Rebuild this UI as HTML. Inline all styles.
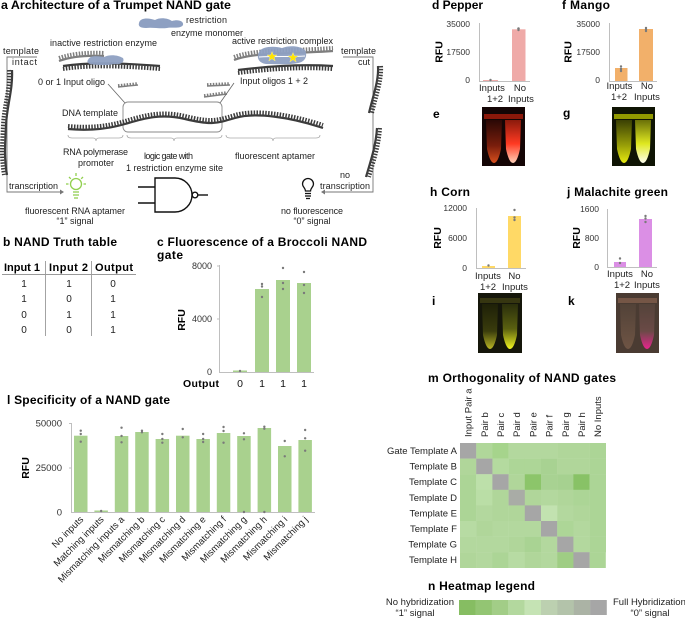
<!DOCTYPE html>
<html><head><meta charset="utf-8"><style>
html,body{margin:0;padding:0;background:#fff;}
svg{display:block;font-family:"Liberation Sans",Arial,sans-serif;}
.t{font-weight:bold;font-size:12px;fill:#000;}
.s{font-size:9px;fill:#222;}
.k{font-size:9px;fill:#333;}
.b{font-weight:bold;font-size:10.5px;fill:#000;}
.ax{stroke:#bfbfbf;stroke-width:1;fill:none;}
.dot{fill:#7a7a7a;}
.bk{stroke:#3c3c3c;stroke-width:2.2;fill:none;}
.tk{stroke:#3c3c3c;stroke-width:4;fill:none;stroke-dasharray:1.5 1.4;}
.bg{stroke:#7e7e7e;stroke-width:2.2;fill:none;}
.tg{stroke:#7e7e7e;stroke-width:4;fill:none;stroke-dasharray:1.5 1.4;}
</style></head><body>
<svg width="685" height="619" viewBox="0 0 685 619" xmlns="http://www.w3.org/2000/svg">
<defs>
<linearGradient id="eL" x1="0" y1="0" x2="0" y2="1"><stop offset="0" stop-color="#2a0805"/><stop offset="0.6" stop-color="#7a1e0c"/><stop offset="1" stop-color="#d8501e"/></linearGradient>
<linearGradient id="eR" x1="0" y1="0" x2="0" y2="1"><stop offset="0" stop-color="#8a1a0c"/><stop offset="0.55" stop-color="#ff3a22"/><stop offset="1" stop-color="#ffd0b8"/></linearGradient>
<linearGradient id="gL" x1="0" y1="0" x2="0" y2="1"><stop offset="0" stop-color="#3a4004"/><stop offset="0.6" stop-color="#9aa008"/><stop offset="1" stop-color="#e6ea10"/></linearGradient>
<linearGradient id="gR" x1="0" y1="0" x2="0" y2="1"><stop offset="0" stop-color="#6a7008"/><stop offset="0.55" stop-color="#dfe820"/><stop offset="1" stop-color="#ffffef"/></linearGradient>
<linearGradient id="iL" x1="0" y1="0" x2="0" y2="1"><stop offset="0" stop-color="#1e2008"/><stop offset="0.6" stop-color="#3a3c0c"/><stop offset="1" stop-color="#b8b424"/></linearGradient>
<linearGradient id="iR" x1="0" y1="0" x2="0" y2="1"><stop offset="0" stop-color="#2a2e0c"/><stop offset="0.55" stop-color="#5a6010"/><stop offset="1" stop-color="#f0f420"/></linearGradient>
<linearGradient id="kL" x1="0" y1="0" x2="0" y2="1"><stop offset="0" stop-color="#524238"/><stop offset="1" stop-color="#6e5444"/></linearGradient>
<linearGradient id="kR" x1="0" y1="0" x2="0" y2="1"><stop offset="0" stop-color="#54433a"/><stop offset="0.6" stop-color="#6a4a46"/><stop offset="1" stop-color="#e6258e"/></linearGradient>
</defs>

<!-- ================= Panel a ================= -->
<text class="t" x="1" y="9" textLength="230" lengthAdjust="spacingAndGlyphs">a Architecture of a Trumpet NAND gate</text>

<!-- monomer -->
<path d="M139,23 C140,17 150,18 155,20 C160,17 168,18 172,21 C178,19 184,21 183,25 C181,29 172,27 167,28 C160,29 152,27 146,28 C140,28 138,26 139,23 Z" fill="#8ea0c2"/>
<text class="s" x="186" y="23" textLength="41">restriction</text>
<text class="s" x="171" y="36" textLength="72">enzyme monomer</text>

<text class="s" x="50" y="46" textLength="107">inactive restriction enzyme</text>
<text class="s" x="232" y="44" textLength="101">active restriction complex</text>

<!-- template intact bracket -->
<text class="s" x="3" y="54" textLength="36">template</text>
<text class="s" x="12" y="65" textLength="25">intact</text>
<path d="M37,57 H7 V192 H60" stroke="#777" stroke-width="0.9" fill="none"/>
<path d="M60,189.5 L64,192 L60,194.5 Z" fill="#777"/>
<!-- template cut bracket -->
<text class="s" x="341" y="54" textLength="35">template</text>
<text class="s" x="358" y="65" textLength="12">cut</text>
<path d="M343,57 H373 V192 H325" stroke="#777" stroke-width="0.9" fill="none"/>
<path d="M325,189.5 L321,192 L325,194.5 Z" fill="#777"/>

<!-- left vertical strand -->
<path class="bk" d="M12,70 C13,90 7,105 6,125 S4,158 7,175"/>
<path class="tk" transform="translate(-3,0)" d="M12,70 C13,90 7,105 6,125 S4,158 7,175"/>
<!-- right cut strand -->
<path class="bk" d="M378,66 C379,80 373,96 369,113"/>
<path class="tk" transform="translate(3,0)" d="M378,66 C379,80 373,96 369,113"/>
<path class="bk" d="M377,128 C376,145 371,160 366,177"/>
<path class="tk" transform="translate(3,0)" d="M377,128 C376,145 371,160 366,177"/>

<!-- inactive enzyme -->
<path class="bg" d="M59,61 C70,57 86,55 104,56"/>
<path class="tg" transform="translate(0,-3)" d="M59,61 C70,57 86,55 104,56"/>
<path class="bk" d="M63,66 C90,62 122,63 160,66"/>
<path class="tk" transform="translate(0,3)" d="M63,66 C90,62 122,63 160,66"/>
<path d="M88,60 C90,55 98,56 104,57 C110,54 118,55 123,58 C125,62 121,65 114,64 C106,66 96,65 90,64 C87,63 87,61 88,60 Z" fill="#8ea0c2" opacity="0.95"/>

<!-- active complex -->
<path class="bg" d="M234,60 C255,52 290,54 333,51"/>
<path class="tg" transform="translate(0,-3)" d="M234,60 C255,52 290,54 333,51"/>
<path class="bk" d="M238,70 C270,66 300,64 333,66"/>
<path class="tk" transform="translate(0,3)" d="M238,70 C270,66 300,64 333,66"/>
<path d="M259,52 C262,46 275,46 282,48 C290,45 300,46 305,50 C308,56 305,62 298,63 C288,65 275,64 266,64 C259,63 256,58 259,52 Z" fill="#8ea0c2" opacity="0.95"/>
<path d="M259,57 C275,56 290,57 305,56" stroke="#fff" stroke-width="1" fill="none"/>
<polygon points="272,51.5 273.3,55 277,55 274,57.3 275.2,61 272,58.7 268.8,61 270,57.3 267,55 270.7,55" fill="#ffe400" stroke="#fff7a0" stroke-width="0.4"/>
<polygon points="293,52.5 294.3,56 298,56 295,58.3 296.2,62 293,59.7 289.8,62 291,58.3 288,56 291.7,56" fill="#ffe400" stroke="#fff7a0" stroke-width="0.4"/>

<!-- oligos -->
<text class="s" x="38" y="85" textLength="67">0 or 1 Input oligo</text>
<path class="bg" style="stroke-width:1.4" d="M118,87 L138,85"/>
<path class="tg" style="stroke-width:2.5" transform="translate(0,-1.6)" d="M118,87 L138,85"/>
<text class="s" x="240" y="84" textLength="68">Input oligos 1 + 2</text>
<path class="bg" style="stroke-width:1.4" d="M207,86 L230,85"/>
<path class="tg" style="stroke-width:2.5" transform="translate(0,-1.6)" d="M207,86 L230,85"/>
<path class="bg" style="stroke-width:1.4" d="M204,97 L227,94"/>
<path class="tg" style="stroke-width:2.5" transform="translate(0,-1.6)" d="M204,97 L227,94"/>
<line x1="108" y1="84" x2="125" y2="103" stroke="#666" stroke-width="0.8"/>
<line x1="234" y1="83" x2="220" y2="103" stroke="#666" stroke-width="0.8"/>

<!-- DNA template -->
<text class="s" x="62" y="116" textLength="56">DNA template</text>
<rect x="123" y="102" width="99" height="30" rx="5" ry="5" fill="none" stroke="#8a8a8a" stroke-width="0.9"/>
<path class="bk" d="M68,129 C90,131 108,129 125,124 S160,113 185,119 S215,124 235,118 S290,117 323,128"/>
<path class="tk" transform="translate(0,-3)" d="M68,129 C90,131 108,129 125,124 S160,113 185,119 S215,124 235,118 S290,117 323,128"/>

<!-- braces -->
<path d="M68,135 Q68,138 72,138 H93 Q96,138 96,141 Q96,138 99,138 H119 Q123,138 123,135" fill="none" stroke="#aaa" stroke-width="0.8"/>
<path d="M127,135 Q127,138 131,138 H171 Q174,138 174,141 Q174,138 177,138 H218 Q222,138 222,135" fill="none" stroke="#aaa" stroke-width="0.8"/>
<path d="M226,135 Q226,138 230,138 H270 Q273,138 273,141 Q273,138 276,138 H316 Q320,138 320,135" fill="none" stroke="#aaa" stroke-width="0.8"/>

<text class="s" x="63" y="155" textLength="65">RNA polymerase</text>
<text class="s" x="96" y="166" text-anchor="middle">promoter</text>
<text class="s" x="144" y="159" textLength="49">logic gate with</text>
<text class="s" x="126" y="171" textLength="97">1 restriction enzyme site</text>
<text class="s" x="235" y="159" textLength="80">fluorescent aptamer</text>

<text class="s" x="9" y="189" textLength="49">transcription</text>
<text class="s" x="345" y="178" text-anchor="middle">no</text>
<text class="s" x="320" y="189" textLength="50">transcription</text>

<!-- green bulb -->
<g stroke="#92d050" stroke-width="1.3" fill="none">
<circle cx="76" cy="184" r="5.5"/>
<line x1="73" y1="192" x2="79" y2="192"/><line x1="73" y1="195" x2="79" y2="195"/><line x1="74" y1="198" x2="78" y2="198"/>
<line x1="76" y1="173" x2="76" y2="176"/><line x1="66" y1="184" x2="68.5" y2="184"/><line x1="83.5" y1="184" x2="86" y2="184"/>
<line x1="69" y1="177" x2="70.8" y2="178.8"/><line x1="83" y1="177" x2="81.2" y2="178.8"/>
</g>
<text class="s" x="25" y="214" textLength="100">fluorescent RNA aptamer</text>
<text class="s" x="75" y="224" text-anchor="middle">“1” signal</text>

<!-- NAND gate -->
<g stroke="#111" stroke-width="1.4" fill="none">
<line x1="138" y1="187" x2="155" y2="187"/><line x1="138" y1="203" x2="155" y2="203"/>
<path d="M155,178 H175 A17,17 0 0 1 175,212 H155 Z"/>
<circle cx="195" cy="195" r="2.8"/>
<line x1="198" y1="195" x2="208" y2="195"/>
</g>

<!-- black bulb -->
<g stroke="#111" stroke-width="1.3" fill="none">
<path d="M305.5,191 C305.5,188 302.5,187 302.5,184 A5.5,5.5 0 0 1 313.5,184 C313.5,187 310.5,188 310.5,191 Z"/>
<line x1="305" y1="193.5" x2="311" y2="193.5"/><line x1="305" y1="196" x2="311" y2="196"/><line x1="306" y1="198.5" x2="310" y2="198.5"/>
</g>
<text class="s" x="281" y="214" textLength="62">no fluorescence</text>
<text class="s" x="312" y="224" text-anchor="middle">“0” signal</text>

<!-- ================= Panel b ================= -->
<text class="t" x="3" y="246" textLength="114">b NAND Truth table</text>
<g font-size="11" font-weight="bold">
<text x="4" y="271" textLength="36">Input 1</text>
<text x="49" y="271" textLength="39">Input 2</text>
<text x="95" y="271" textLength="38">Output</text>
</g>
<line x1="2" y1="274.5" x2="136" y2="274.5" stroke="#999" stroke-width="0.9"/>
<line x1="45.5" y1="261" x2="45.5" y2="336" stroke="#999" stroke-width="0.9"/>
<line x1="91.5" y1="261" x2="91.5" y2="336" stroke="#999" stroke-width="0.9"/>
<g font-size="10" fill="#222" text-anchor="middle">
<text x="24" y="287">1</text><text x="69" y="287">1</text><text x="113" y="287">0</text>
<text x="24" y="302">1</text><text x="69" y="302">0</text><text x="113" y="302">1</text>
<text x="24" y="318">0</text><text x="69" y="318">1</text><text x="113" y="318">1</text>
<text x="24" y="333">0</text><text x="69" y="333">0</text><text x="113" y="333">1</text>
</g>

<!-- ================= Panel c ================= -->
<text class="t" x="157" y="246" textLength="210">c Fluorescence of a Broccoli NAND</text>
<text class="t" x="157" y="259" textLength="26">gate</text>
<g fill="#a9d18e">
<rect x="233" y="370.5" width="14" height="1.5"/>
<rect x="255" y="289" width="14" height="83"/>
<rect x="276" y="280" width="14" height="92"/>
<rect x="297" y="283" width="14" height="89"/>
</g>
<path class="ax" d="M219.5,265 V372.5 H314"/>
<line x1="217" y1="266" x2="219.5" y2="266" stroke="#bfbfbf"/>
<line x1="217" y1="319" x2="219.5" y2="319" stroke="#bfbfbf"/>
<g class="k" text-anchor="end">
<text x="212" y="269">8000</text><text x="212" y="322">4000</text><text x="212" y="375">0</text>
</g>
<g class="dot">
<circle cx="240" cy="371" r="1.2"/>
<circle cx="262" cy="284" r="1.2"/><circle cx="262" cy="286.5" r="1.2"/><circle cx="262" cy="297" r="1.2"/>
<circle cx="283" cy="268" r="1.2"/><circle cx="283" cy="283" r="1.2"/><circle cx="283" cy="289" r="1.2"/>
<circle cx="304" cy="272" r="1.2"/><circle cx="304" cy="285" r="1.2"/><circle cx="304" cy="293" r="1.2"/>
</g>
<text class="b" transform="translate(181,320) rotate(-90)" x="0" y="4" text-anchor="middle">RFU</text>
<text class="b" x="183" y="387" textLength="36">Output</text>
<g font-size="10.5" fill="#111" text-anchor="middle">
<text x="240" y="387">0</text><text x="262" y="387">1</text><text x="283" y="387">1</text><text x="304" y="387">1</text>
</g>

<!-- ================= Panel l ================= -->
<text class="t" x="7" y="404" textLength="163">l Specificity of a NAND gate</text>
<g fill="#a9d18e">
<rect x="74" y="435.7" width="13.5" height="76.3"/>
<rect x="94.4" y="510.5" width="13.5" height="1.5"/>
<rect x="114.8" y="436" width="13.5" height="76"/>
<rect x="135.2" y="432" width="13.5" height="80"/>
<rect x="155.6" y="439" width="13.5" height="73"/>
<rect x="176" y="435.7" width="13.5" height="76.3"/>
<rect x="196.4" y="439" width="13.5" height="73"/>
<rect x="216.8" y="433" width="13.5" height="79"/>
<rect x="237.2" y="436" width="13.5" height="76"/>
<rect x="257.6" y="428" width="13.5" height="84"/>
<rect x="278" y="446" width="13.5" height="66"/>
<rect x="298.4" y="440" width="13.5" height="72"/>
</g>
<path class="ax" d="M71.5,423 V512.5 H315"/>
<line x1="69" y1="423.5" x2="71.5" y2="423.5" stroke="#bfbfbf"/>
<line x1="69" y1="468" x2="71.5" y2="468" stroke="#bfbfbf"/>
<g font-size="9.5" fill="#333" text-anchor="end">
<text x="62" y="426.5">50000</text><text x="62" y="471">25000</text><text x="62" y="515.5">0</text>
</g>
<text class="b" transform="translate(25,468) rotate(-90)" x="0" y="4" text-anchor="middle">RFU</text>
<g class="dot">
<circle cx="80.75" cy="430.7" r="1.2"/><circle cx="80.75" cy="434" r="1.2"/><circle cx="80.75" cy="441.7" r="1.2"/>
<circle cx="101.15" cy="511" r="1.2"/>
<circle cx="121.55" cy="427.7" r="1.2"/><circle cx="121.55" cy="436" r="1.2"/><circle cx="121.55" cy="442.3" r="1.2"/>
<circle cx="141.95" cy="430.7" r="1.2"/><circle cx="141.95" cy="432.3" r="1.2"/>
<circle cx="162.35" cy="434" r="1.2"/><circle cx="162.35" cy="439" r="1.2"/><circle cx="162.35" cy="442.7" r="1.2"/>
<circle cx="182.75" cy="429" r="1.2"/><circle cx="182.75" cy="437.3" r="1.2"/>
<circle cx="203.15" cy="434" r="1.2"/><circle cx="203.15" cy="439" r="1.2"/><circle cx="203.15" cy="442" r="1.2"/>
<circle cx="223.55" cy="427" r="1.2"/><circle cx="223.55" cy="431" r="1.2"/><circle cx="223.55" cy="442.7" r="1.2"/>
<circle cx="243.95" cy="433.3" r="1.2"/><circle cx="243.95" cy="439.3" r="1.2"/><circle cx="243.95" cy="512" r="1.2"/>
<circle cx="264.35" cy="426.7" r="1.2"/><circle cx="264.35" cy="428.7" r="1.2"/><circle cx="264.35" cy="512" r="1.2"/>
<circle cx="284.75" cy="441" r="1.2"/><circle cx="284.75" cy="456.3" r="1.2"/>
<circle cx="305.15" cy="430" r="1.2"/><circle cx="305.15" cy="438.3" r="1.2"/><circle cx="305.15" cy="450.7" r="1.2"/>
</g>
<g font-size="9.5" fill="#222" text-anchor="end">
<text transform="translate(84,520) rotate(-45)">No inputs</text>
<text transform="translate(104.4,520) rotate(-45)">Matching inputs</text>
<text transform="translate(124.8,520) rotate(-45)">Mismatching inputs a</text>
<text transform="translate(145.2,520) rotate(-45)">Mismatching b</text>
<text transform="translate(165.6,520) rotate(-45)">Mismatching c</text>
<text transform="translate(186,520) rotate(-45)">Mismatching d</text>
<text transform="translate(206.4,520) rotate(-45)">Mismatching e</text>
<text transform="translate(226.8,520) rotate(-45)">Mismatching f</text>
<text transform="translate(247.2,520) rotate(-45)">Mismatching g</text>
<text transform="translate(267.6,520) rotate(-45)">Mismatching h</text>
<text transform="translate(288,520) rotate(-45)">Mismatching i</text>
<text transform="translate(308.4,520) rotate(-45)">Mismatching j</text>
</g>

<!-- ================= Panel d ================= -->
<text class="t" x="432" y="9" textLength="51">d Pepper</text>
<g fill="#efaaa8">
<rect x="483" y="80" width="15" height="1"/>
<rect x="512" y="29.3" width="13.5" height="51.7"/>
</g>
<path class="ax" d="M479.5,23 V81.5 H530"/>
<g font-size="8.5" fill="#333" text-anchor="end">
<text x="470" y="27">35000</text><text x="470" y="55">17500</text><text x="470" y="83">0</text>
</g>
<text class="b" transform="translate(438.5,52) rotate(-90)" x="0" y="4" text-anchor="middle">RFU</text>
<g class="dot"><circle cx="490.5" cy="80" r="1.2"/><circle cx="518.5" cy="28.5" r="1.3"/><circle cx="518.5" cy="30" r="1.2"/></g>
<g font-size="9.5" fill="#222" text-anchor="middle">
<text x="492" y="91">Inputs</text><text x="495" y="102">1+2</text>
<text x="520" y="91">No</text><text x="521" y="102">Inputs</text>
</g>

<!-- ================= Panel f ================= -->
<text class="t" x="562" y="9" textLength="48">f Mango</text>
<g fill="#f2b06a">
<rect x="615" y="68" width="12.5" height="13"/>
<rect x="639" y="29" width="14" height="52"/>
</g>
<path class="ax" d="M609.5,23 V81.5 H657"/>
<g font-size="8.5" fill="#333" text-anchor="end">
<text x="600" y="27">35000</text><text x="600" y="55">17500</text><text x="600" y="83">0</text>
</g>
<text class="b" transform="translate(567.5,52) rotate(-90)" x="0" y="4" text-anchor="middle">RFU</text>
<g class="dot"><circle cx="621" cy="66.5" r="1.2"/><circle cx="621" cy="69" r="1.2"/><circle cx="621" cy="71" r="1.2"/>
<circle cx="646" cy="28" r="1.2"/><circle cx="646" cy="29.5" r="1.2"/><circle cx="646" cy="31" r="1.2"/></g>
<g font-size="9.5" fill="#222" text-anchor="middle">
<text x="619.5" y="89">Inputs</text><text x="619" y="100">1+2</text>
<text x="647" y="89">No</text><text x="647" y="100">Inputs</text>
</g>

<!-- photos e,g -->
<text class="t" x="433" y="118">e</text>
<text class="t" x="563" y="117">g</text>
<g transform="translate(482,107)">
<rect width="43" height="59" fill="#140505"/>
<rect x="2" y="7" width="39" height="5" fill="#a01c0c" opacity="0.85"/>
<path d="M4,13 H20 L19,42 Q16,56 12,56 Q8,56 5,42 Z" fill="url(#eL)"/>
<path d="M23,13 H39 L38,42 Q35,56 31,56 Q27,56 24,42 Z" fill="url(#eR)"/>
</g>
<g transform="translate(612,107)">
<rect width="43" height="59" fill="#0f1404"/>
<rect x="2" y="7" width="39" height="5" fill="#a8b000" opacity="0.85"/>
<path d="M4,13 H20 L19,42 Q16,56 12,56 Q8,56 5,42 Z" fill="url(#gL)"/>
<path d="M23,13 H39 L38,42 Q35,56 31,56 Q27,56 24,42 Z" fill="url(#gR)"/>
</g>

<!-- ================= Panel h ================= -->
<text class="t" x="430" y="196" textLength="40">h Corn</text>
<g fill="#ffd966">
<rect x="482" y="266" width="13" height="2"/>
<rect x="508" y="216" width="13" height="52"/>
</g>
<path class="ax" d="M476.5,208 V268.5 H526"/>
<g font-size="8.5" fill="#333" text-anchor="end">
<text x="467" y="211">12000</text><text x="467" y="241">6000</text><text x="467" y="271">0</text>
</g>
<text class="b" transform="translate(437,238) rotate(-90)" x="0" y="4" text-anchor="middle">RFU</text>
<g class="dot"><circle cx="488.5" cy="265.5" r="1.2"/>
<circle cx="514.5" cy="210" r="1.2"/><circle cx="514.5" cy="217.5" r="1.2"/><circle cx="514.5" cy="220" r="1.2"/></g>
<g font-size="9.5" fill="#222" text-anchor="middle">
<text x="488" y="279">Inputs</text><text x="488" y="290">1+2</text>
<text x="514.5" y="279">No</text><text x="515" y="290">Inputs</text>
</g>

<!-- ================= Panel j ================= -->
<text class="t" x="567" y="196" textLength="101">j Malachite green</text>
<g fill="#db8fe5">
<rect x="614" y="262" width="12" height="5"/>
<rect x="639" y="219" width="13" height="48"/>
</g>
<path class="ax" d="M607.5,209 V267.5 H657"/>
<g font-size="8.5" fill="#333" text-anchor="end">
<text x="599" y="212">1600</text><text x="599" y="241">800</text><text x="599" y="270">0</text>
</g>
<text class="b" transform="translate(576,238) rotate(-90)" x="0" y="4" text-anchor="middle">RFU</text>
<g class="dot"><circle cx="620" cy="258.5" r="1.2"/><circle cx="620" cy="263" r="1.2"/>
<circle cx="645.5" cy="216" r="1.2"/><circle cx="645.5" cy="218.5" r="1.2"/><circle cx="645.5" cy="222" r="1.2"/></g>
<g font-size="9.5" fill="#222" text-anchor="middle">
<text x="620" y="277">Inputs</text><text x="622" y="288">1+2</text>
<text x="647" y="277">No</text><text x="647" y="288">Inputs</text>
</g>

<!-- photos i,k -->
<text class="t" x="432" y="305">i</text>
<text class="t" x="568" y="305">k</text>
<g transform="translate(478,293)">
<rect width="44" height="60" fill="#15160a"/>
<rect x="2" y="5" width="40" height="5" fill="#3a3a12" opacity="0.9"/>
<path d="M4,11 H20 L19,42 Q16,56 12,56 Q8,56 5,42 Z" fill="url(#iL)"/>
<path d="M24,11 H40 L39,42 Q36,56 32,56 Q28,56 25,42 Z" fill="url(#iR)"/>
</g>
<g transform="translate(616,293)">
<rect width="43" height="60" fill="#4a3b32"/>
<rect x="2" y="5" width="39" height="5" fill="#7a5a48" opacity="0.9"/>
<path d="M4,11 H20 L19,42 Q16,56 12,56 Q8,56 5,42 Z" fill="url(#kL)"/>
<path d="M23,11 H39 L38,42 Q35,56 31,56 Q27,56 24,42 Z" fill="url(#kR)"/>
</g>

<!-- ================= Panel m ================= -->
<text class="t" x="428" y="382" textLength="188">m Orthogonality of NAND gates</text>
<g font-size="9.5" fill="#222">
<text transform="translate(471.6,437) rotate(-90)">Input Pair a</text>
<text transform="translate(487.8,437) rotate(-90)">Pair b</text>
<text transform="translate(504,437) rotate(-90)">Pair c</text>
<text transform="translate(520.2,437) rotate(-90)">Pair d</text>
<text transform="translate(536.4,437) rotate(-90)">Pair e</text>
<text transform="translate(552.6,437) rotate(-90)">Pair f</text>
<text transform="translate(568.8,437) rotate(-90)">Pair g</text>
<text transform="translate(585,437) rotate(-90)">Pair h</text>
<text transform="translate(601.2,437) rotate(-90)">No Inputs</text>
</g>
<g font-size="9.5" fill="#222" text-anchor="end">
<text x="457" y="454">Gate Template A</text>
<text x="457" y="469.6">Template B</text>
<text x="457" y="485.2">Template C</text>
<text x="457" y="500.8">Template D</text>
<text x="457" y="516.4">Template E</text>
<text x="457" y="532">Template F</text>
<text x="457" y="547.6">Template G</text>
<text x="457" y="563.2">Template H</text>
</g>
<g>
<!-- row A -->
<rect x="460" y="443" width="16.4" height="15.8" fill="#a6a6a6"/>
<rect x="476.2" y="443" width="16.4" height="15.8" fill="#b0d79a"/>
<rect x="492.4" y="443" width="16.4" height="15.8" fill="#a6d48c"/>
<rect x="508.6" y="443" width="16.4" height="15.8" fill="#b3d89e"/>
<rect x="524.8" y="443" width="16.4" height="15.8" fill="#b3d89e"/>
<rect x="541" y="443" width="16.4" height="15.8" fill="#b3d89e"/>
<rect x="557.2" y="443" width="16.4" height="15.8" fill="#b0d69a"/>
<rect x="573.4" y="443" width="16.4" height="15.8" fill="#b0d69a"/>
<rect x="589.6" y="443" width="16.4" height="15.8" fill="#acd596"/>
<!-- row B -->
<rect x="460" y="458.6" width="16.4" height="15.8" fill="#b0d69a"/>
<rect x="476.2" y="458.6" width="16.4" height="15.8" fill="#a6a6a6"/>
<rect x="492.4" y="458.6" width="16.4" height="15.8" fill="#b4da9f"/>
<rect x="508.6" y="458.6" width="16.4" height="15.8" fill="#add697"/>
<rect x="524.8" y="458.6" width="16.4" height="15.8" fill="#add697"/>
<rect x="541" y="458.6" width="16.4" height="15.8" fill="#a8d292"/>
<rect x="557.2" y="458.6" width="16.4" height="15.8" fill="#b0d69a"/>
<rect x="573.4" y="458.6" width="16.4" height="15.8" fill="#b0d69a"/>
<rect x="589.6" y="458.6" width="16.4" height="15.8" fill="#acd596"/>
<!-- row C -->
<rect x="460" y="474.2" width="16.4" height="15.8" fill="#acd596"/>
<rect x="476.2" y="474.2" width="16.4" height="15.8" fill="#bde0aa"/>
<rect x="492.4" y="474.2" width="16.4" height="15.8" fill="#a6a6a6"/>
<rect x="508.6" y="474.2" width="16.4" height="15.8" fill="#b0d69a"/>
<rect x="524.8" y="474.2" width="16.4" height="15.8" fill="#8cc56a"/>
<rect x="541" y="474.2" width="16.4" height="15.8" fill="#a8d292"/>
<rect x="557.2" y="474.2" width="16.4" height="15.8" fill="#a6d190"/>
<rect x="573.4" y="474.2" width="16.4" height="15.8" fill="#88c266"/>
<rect x="589.6" y="474.2" width="16.4" height="15.8" fill="#acd596"/>
<!-- row D -->
<rect x="460" y="489.8" width="16.4" height="15.8" fill="#acd596"/>
<rect x="476.2" y="489.8" width="16.4" height="15.8" fill="#badea6"/>
<rect x="492.4" y="489.8" width="16.4" height="15.8" fill="#b0d69a"/>
<rect x="508.6" y="489.8" width="16.4" height="15.8" fill="#a9aca6"/>
<rect x="524.8" y="489.8" width="16.4" height="15.8" fill="#b0d69a"/>
<rect x="541" y="489.8" width="16.4" height="15.8" fill="#b3d89e"/>
<rect x="557.2" y="489.8" width="16.4" height="15.8" fill="#b0d69a"/>
<rect x="573.4" y="489.8" width="16.4" height="15.8" fill="#acd596"/>
<rect x="589.6" y="489.8" width="16.4" height="15.8" fill="#acd596"/>
<!-- row E -->
<rect x="460" y="505.4" width="16.4" height="15.8" fill="#acd596"/>
<rect x="476.2" y="505.4" width="16.4" height="15.8" fill="#b3d89e"/>
<rect x="492.4" y="505.4" width="16.4" height="15.8" fill="#b0d69a"/>
<rect x="508.6" y="505.4" width="16.4" height="15.8" fill="#b0d69a"/>
<rect x="524.8" y="505.4" width="16.4" height="15.8" fill="#a6a6a6"/>
<rect x="541" y="505.4" width="16.4" height="15.8" fill="#c2e2b0"/>
<rect x="557.2" y="505.4" width="16.4" height="15.8" fill="#b3d89e"/>
<rect x="573.4" y="505.4" width="16.4" height="15.8" fill="#b0d69a"/>
<rect x="589.6" y="505.4" width="16.4" height="15.8" fill="#acd596"/>
<!-- row F -->
<rect x="460" y="521" width="16.4" height="15.8" fill="#b7dba3"/>
<rect x="476.2" y="521" width="16.4" height="15.8" fill="#b0d69a"/>
<rect x="492.4" y="521" width="16.4" height="15.8" fill="#b3d89e"/>
<rect x="508.6" y="521" width="16.4" height="15.8" fill="#b3d89e"/>
<rect x="524.8" y="521" width="16.4" height="15.8" fill="#b3d89e"/>
<rect x="541" y="521" width="16.4" height="15.8" fill="#a6a6a6"/>
<rect x="557.2" y="521" width="16.4" height="15.8" fill="#add697"/>
<rect x="573.4" y="521" width="16.4" height="15.8" fill="#b3d89e"/>
<rect x="589.6" y="521" width="16.4" height="15.8" fill="#acd596"/>
<!-- row G -->
<rect x="460" y="536.6" width="16.4" height="15.8" fill="#b3d89e"/>
<rect x="476.2" y="536.6" width="16.4" height="15.8" fill="#b3d89e"/>
<rect x="492.4" y="536.6" width="16.4" height="15.8" fill="#b3d89e"/>
<rect x="508.6" y="536.6" width="16.4" height="15.8" fill="#b0d69a"/>
<rect x="524.8" y="536.6" width="16.4" height="15.8" fill="#a9d393"/>
<rect x="541" y="536.6" width="16.4" height="15.8" fill="#b3d89e"/>
<rect x="557.2" y="536.6" width="16.4" height="15.8" fill="#a6a6a6"/>
<rect x="573.4" y="536.6" width="16.4" height="15.8" fill="#b3d89e"/>
<rect x="589.6" y="536.6" width="16.4" height="15.8" fill="#acd596"/>
<!-- row H -->
<rect x="460" y="552.2" width="16.4" height="15.8" fill="#b0d69a"/>
<rect x="476.2" y="552.2" width="16.4" height="15.8" fill="#b3d89e"/>
<rect x="492.4" y="552.2" width="16.4" height="15.8" fill="#acd596"/>
<rect x="508.6" y="552.2" width="16.4" height="15.8" fill="#b7dba3"/>
<rect x="524.8" y="552.2" width="16.4" height="15.8" fill="#b0d69a"/>
<rect x="541" y="552.2" width="16.4" height="15.8" fill="#b3d89e"/>
<rect x="557.2" y="552.2" width="16.4" height="15.8" fill="#9fcd84"/>
<rect x="573.4" y="552.2" width="16.4" height="15.8" fill="#a6a6a6"/>
<rect x="589.6" y="552.2" width="16.2" height="15.8" fill="#acd596"/>
</g>

<!-- ================= Panel n ================= -->
<text class="t" x="428" y="590" textLength="107">n Heatmap legend</text>
<g>
<rect x="459" y="600" width="16.6" height="15" fill="#86bd62"/>
<rect x="475.4" y="600" width="16.6" height="15" fill="#93c573"/>
<rect x="491.8" y="600" width="16.6" height="15" fill="#a2cd87"/>
<rect x="508.2" y="600" width="16.6" height="15" fill="#b3d89e"/>
<rect x="524.6" y="600" width="16.6" height="15" fill="#c5e3b4"/>
<rect x="541" y="600" width="16.6" height="15" fill="#bcd0b0"/>
<rect x="557.4" y="600" width="16.6" height="15" fill="#b3c3aa"/>
<rect x="573.8" y="600" width="16.6" height="15" fill="#abb3a5"/>
<rect x="590.2" y="600" width="16.6" height="15" fill="#a6a6a6"/>
</g>
<g font-size="9.5" fill="#222">
<text x="454" y="605" text-anchor="end">No hybridization</text>
<text x="415" y="616" text-anchor="middle">“1” signal</text>
<text x="613" y="605">Full Hybridization</text>
<text x="650" y="616" text-anchor="middle">“0” signal</text>
</g>
</svg>
</body></html>
